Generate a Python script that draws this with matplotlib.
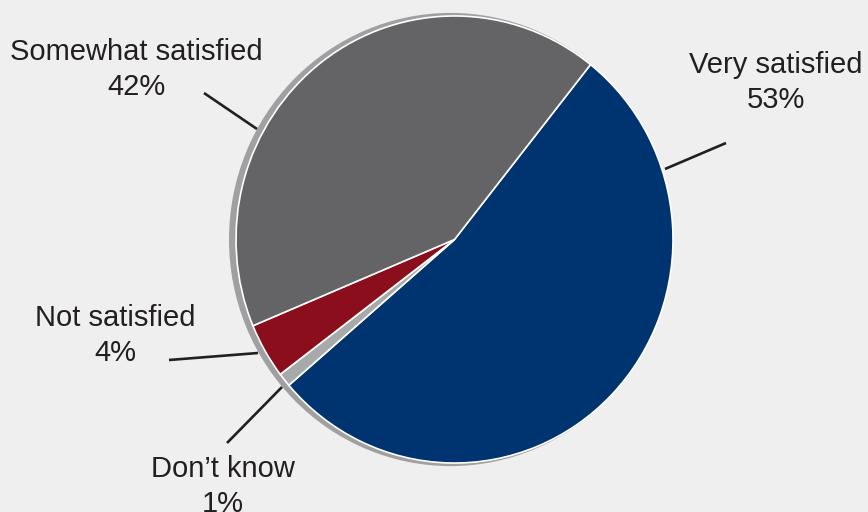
import matplotlib

matplotlib.use("Agg")
import matplotlib.pyplot as plt
from matplotlib.patches import Circle

plt.rcParams.update({
    "font.family": ["Liberation Sans", "DejaVu Sans"],
})

# satisfaction shares, clockwise from the top-right
categories = ["Very satisfied", "Don\u2019t know", "Not satisfied", "Somewhat satisfied"]
shares = [53, 1, 4, 42]
colors = ["#003470", "#a8a9ab", "#8b0e1c", "#646466"]

BG = "#efefef"
INK = "#231f20"
W, H = 868, 512
SY = 1.023  # slight vertical stretch of the pie

fig = plt.figure(figsize=(W / 100, H / 100), dpi=100, facecolor=BG)
ax = fig.add_axes([0, 0, 1, 1])
ax.set_facecolor(BG)


def px(x, y):
    """pixel position (from top-left) -> data coords"""
    return x, (H - y) / SY


cx, cy = px(454.5, 239.5)
R = 218.5

# offset grey rim behind the pie
ax.add_patch(Circle((cx - 4, cy), R + 3, facecolor="#a0a0a2",
                    edgecolor="none", zorder=0))

ax.pie(shares, colors=colors, startangle=51.5, counterclock=False,
       center=(cx, cy), radius=R,
       wedgeprops=dict(edgecolor="white", linewidth=1.2, zorder=1))
ax.set_aspect("auto")
ax.set_xlim(0, W)
ax.set_ylim(0, H / SY)
ax.axis("off")

# leader lines (pixel coords) and label anchors: (x centre, first baseline)
leaders = {
    "Very satisfied": ((665, 169), (726, 143)),
    "Don\u2019t know": ((282, 387), (227, 443)),
    "Not satisfied": ((258, 353), (169, 360)),
    "Somewhat satisfied": ((257, 129), (204, 93)),
}
anchors = {
    "Very satisfied": (776, 73),
    "Don\u2019t know": (223, 477),
    "Not satisfied": (115.5, 326),
    "Somewhat satisfied": (136.5, 60),
}

for name, val in zip(categories, shares):
    (x0, y0), (x1, y1) = leaders[name]
    a, b = px(x0, y0), px(x1, y1)
    ax.plot([a[0], b[0]], [a[1], b[1]], color=INK, lw=1.9,
            solid_capstyle="butt", zorder=3)
    tx, ty = anchors[name]
    ax.text(*px(tx, ty), name, ha="center", va="baseline",
            fontsize=21, color=INK, zorder=4)
    ax.text(*px(tx, ty + 35), f"{val}%", ha="center", va="baseline",
            fontsize=21, color=INK, zorder=4)

fig.savefig("out.png", dpi=100, facecolor=BG)
